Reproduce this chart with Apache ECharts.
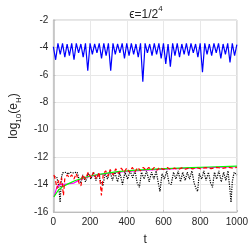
<!DOCTYPE html>
<html><head><meta charset="utf-8">
<script src="https://cdn.jsdelivr.net/npm/echarts@6/dist/echarts.min.js"></script>
<style>html,body{margin:0;padding:0;background:#fff}#c{width:251px;height:251px}</style>
</head><body><div id="c"></div>
<script>
const xTicks = [0, 200, 400, 600, 800, 1000];
const yTicks = [-16, -14, -12, -10, -8, -6, -4, -2];

const blueT = [0,12.5,25,37.5,50,62.5,75,87.5,100,112.5,125,137.5,150,162.5,175,187.5,200,212.5,225,237.5,250,262.5,275,287.5,300,312.5,325,337.5,350,362.5,375,387.5,400,412.5,425,437.5,450,462.5,475,487.5,500,512.5,525,537.5,550,562.5,575,587.5,600,612.5,625,637.5,650,662.5,675,687.5,700,712.5,725,737.5,750,762.5,775,787.5,800,812.5,825,837.5,850,862.5,875,887.5,900,912.5,925,937.5,950,962.5,975,987.5,1000];
const blueV = [-3.95,-4.9,-3.7,-4.5,-3.7,-4.7,-3.75,-4.6,-3.7,-4.9,-3.7,-4.4,-3.75,-4.7,-3.7,-5.7,-3.7,-4.5,-3.75,-4.4,-3.7,-4.8,-3.7,-4.6,-3.7,-5.7,-3.7,-4.5,-3.75,-4.4,-3.7,-4.8,-3.7,-4.6,-3.7,-4.5,-3.75,-4.7,-3.7,-6.5,-3.7,-4.4,-3.75,-4.6,-3.7,-4.5,-3.7,-4.8,-3.7,-5.2,-3.75,-5.4,-3.7,-4.6,-3.7,-4.7,-3.75,-4.5,-3.7,-4.6,-3.7,-4.4,-3.75,-4.7,-3.7,-5.8,-3.7,-4.5,-3.75,-4.6,-3.7,-4.4,-3.7,-4.8,-3.75,-4.5,-3.7,-5.1,-3.7,-4.6,-3.8];

const greenT = [3,10,25,50,80,120,180,250,350,450,550,650,750,850,1000];
const greenV = [-14.9,-14.75,-14.45,-14.15,-13.95,-13.7,-13.45,-13.25,-13.05,-12.95,-12.88,-12.82,-12.76,-12.72,-12.66];

const magentaT = [3,10,20,40,80,110,130,160,200,250,350,500,700,1000];
const magentaV = [-14.9,-14.6,-14.15,-14.0,-13.95,-13.9,-13.75,-13.55,-13.4,-13.28,-13.1,-12.95,-12.82,-12.7];

const redT = [3,10,20,28,35,45,55,62,75,88,100,112,125,140,150,160,175,190,205,220,235,250,262,272,285,298,310,325,340,355,370,385,400,415,430,445,460,475,490,505,520,535,550,565,580,600,620,640,660,680,700,720,740,760,780,800,830,860,890,920,950,980,1000];
const redV = [-13.3,-13.6,-14.3,-13.7,-14.0,-13.5,-14.8,-13.6,-13.3,-13.5,-13.3,-13.6,-13.2,-13.9,-14.1,-13.3,-13.6,-13.1,-13.5,-13.1,-13.6,-13.1,-14.8,-13.2,-13.0,-13.4,-12.9,-13.3,-12.85,-13.2,-12.8,-13.1,-12.8,-13.1,-12.75,-13.05,-12.75,-13.0,-12.75,-12.95,-12.75,-12.95,-12.75,-12.95,-12.75,-12.9,-12.75,-12.9,-12.8,-12.9,-12.78,-12.88,-12.78,-12.86,-12.76,-12.85,-12.76,-12.84,-12.75,-12.82,-12.74,-12.8,-12.75];

const blackT = [5,10,20,30,37,44,50,60,70,80,90,100,110,120,130,140,150,160,175,190,205,218,232,245,258,270,282,295,308,322,335,350,362,377,390,405,418,432,445,457,469,480,495,508,522,535,548,560,572,581,592,605,618,630,642,655,668,680,693,705,718,730,742,755,767,778,786,795,808,820,832,845,857,867,878,890,902,915,928,940,952,963,968,975,985,1000];
const blackV = [-13.4,-13.3,-13.5,-14.2,-15.3,-13.5,-13.15,-13.2,-13.1,-13.25,-13.1,-13.2,-13.15,-13.2,-13.1,-13.6,-13.9,-13.3,-13.8,-13.2,-13.6,-13.1,-13.7,-13.2,-13.8,-14.1,-13.2,-13.6,-13.0,-13.7,-13.1,-13.8,-13.1,-14.0,-13.1,-13.6,-13.0,-13.5,-13.0,-13.9,-14.2,-13.1,-13.6,-13.0,-13.8,-13.1,-13.6,-13.0,-13.9,-14.5,-13.2,-13.6,-13.0,-13.9,-14.0,-13.1,-13.6,-13.0,-13.8,-13.1,-13.7,-13.1,-13.6,-13.0,-13.9,-14.3,-14.5,-13.2,-13.6,-13.0,-13.7,-13.1,-13.9,-14.2,-13.1,-13.6,-13.0,-13.8,-13.1,-13.7,-13.0,-14.5,-15.3,-13.8,-13.1,-13.3];

const zip = (a, b) => a.map((v, i) => [v, b[i]]);
const FONT = 'Liberation Sans, Arial, sans-serif';
const TXT = '#262626';

const chart = echarts.init(document.getElementById('c'), null, {renderer: 'canvas'});
chart.setOption({
  animation: false,
  backgroundColor: '#fff',
  title: {
    text: '{a|ϵ=1/2}{s|4}',
    left: 141, top: 0, textAlign: 'center',
    textStyle: {
      fontWeight: 'normal',
      rich: {
        a: {fontFamily: FONT, fontSize: 12, fontWeight: 'normal', color: TXT, verticalAlign: 'bottom', lineHeight: 16},
        s: {fontFamily: FONT, fontSize: 8, fontWeight: 'normal', color: TXT, verticalAlign: 'top', lineHeight: 16, padding: [0,0,6,0]}
      }
    }
  },
  grid: {left: 43, right: 12, top: 20, bottom: 29, show: true, borderColor: '#c8c8c8', borderWidth: 1},
  xAxis: {
    type: 'value', min: 0, max: 1000, interval: 200,
    name: 't', nameLocation: 'middle', nameGap: 22,
    nameTextStyle: {fontFamily: FONT, fontSize: 12, color: TXT},
    axisLine: {show: true, lineStyle: {color: '#bdbdbd', width: 1}},
    axisTick: {show: true, inside: true, length: 2, lineStyle: {color: '#bdbdbd'}},
    axisLabel: {fontFamily: FONT, fontSize: 10, color: TXT, margin: 5, formatter: v => String(v)},
    splitLine: {show: true, lineStyle: {color: '#e8e8e8', width: 1}}
  },
  yAxis: {
    type: 'value', min: -16, max: -2, interval: 2,
    name: '{a|log}{s|10}{a|(e}{s|H}{a|)}', nameLocation: 'middle', nameGap: 28, nameRotate: 90,
    nameTextStyle: {
      rich: {
        a: {fontFamily: FONT, fontSize: 12, color: TXT, verticalAlign: 'top', lineHeight: 15},
        s: {fontFamily: FONT, fontSize: 8, color: TXT, verticalAlign: 'bottom', lineHeight: 15, padding: [4,0,0,0]}
      }
    },
    axisLine: {show: true, lineStyle: {color: '#bdbdbd', width: 1.5}},
    axisTick: {show: true, inside: true, length: 2, lineStyle: {color: '#bdbdbd'}},
    axisLabel: {fontFamily: FONT, fontSize: 10, color: TXT, margin: 5},
    splitLine: {show: true, lineStyle: {color: '#e8e8e8', width: 1}}
  },
  series: [
    {type: 'line', data: zip(blueT, blueV), showSymbol: false, lineStyle: {color: '#0000ff', width: 1.2}, itemStyle: {color: '#0000ff'}},
    {type: 'line', data: zip(blackT, blackV), showSymbol: false, lineStyle: {color: '#000000', width: 1.2, type: [1.2, 1.2]}, itemStyle: {color: '#000'}},
    {type: 'line', data: zip(magentaT, magentaV), showSymbol: false, lineStyle: {color: '#ff00ff', width: 1.2}, itemStyle: {color: '#f0f'}},
    {type: 'line', data: zip(greenT, greenV), showSymbol: false, lineStyle: {color: '#00ff00', width: 1.2}, itemStyle: {color: '#0f0'}},
    {type: 'line', data: zip(redT, redV), showSymbol: false, lineStyle: {color: '#ff0000', width: 1.2, type: [4, 2.5]}, itemStyle: {color: '#f00'}}
  ]
});
</script>
</body></html>
